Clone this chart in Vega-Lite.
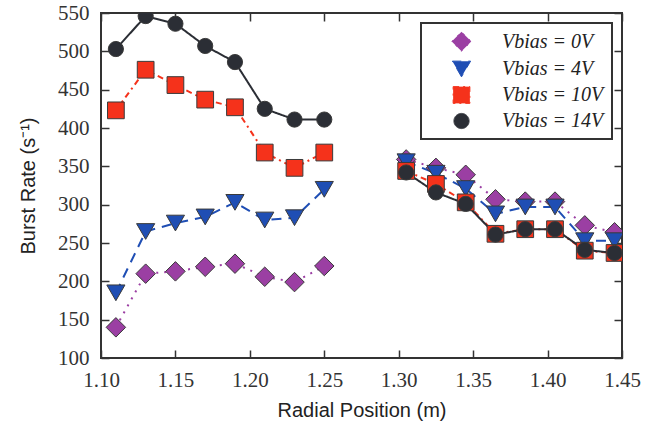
{
  "$schema": "https://vega.github.io/schema/vega-lite/v6.json",
  "width": 521,
  "height": 345,
  "autosize": {"type": "none"},
  "padding": {"left": 101, "top": 13, "right": 34, "bottom": 71},
  "background": "white",
  "data": {"values": [
    {"x": 1.11, "y": 140, "bias": "0V", "side": "L"},
    {"x": 1.13, "y": 210, "bias": "0V", "side": "L"},
    {"x": 1.15, "y": 213, "bias": "0V", "side": "L"},
    {"x": 1.17, "y": 219, "bias": "0V", "side": "L"},
    {"x": 1.19, "y": 223, "bias": "0V", "side": "L"},
    {"x": 1.21, "y": 206, "bias": "0V", "side": "L"},
    {"x": 1.23, "y": 199, "bias": "0V", "side": "L"},
    {"x": 1.25, "y": 220, "bias": "0V", "side": "L"},
    {"x": 1.305, "y": 359, "bias": "0V", "side": "R"},
    {"x": 1.325, "y": 348, "bias": "0V", "side": "R"},
    {"x": 1.345, "y": 339, "bias": "0V", "side": "R"},
    {"x": 1.365, "y": 307, "bias": "0V", "side": "R"},
    {"x": 1.385, "y": 304, "bias": "0V", "side": "R"},
    {"x": 1.405, "y": 304, "bias": "0V", "side": "R"},
    {"x": 1.425, "y": 273, "bias": "0V", "side": "R"},
    {"x": 1.445, "y": 264, "bias": "0V", "side": "R"},
    {"x": 1.11, "y": 185, "bias": "4V", "side": "L"},
    {"x": 1.13, "y": 265, "bias": "4V", "side": "L"},
    {"x": 1.15, "y": 276, "bias": "4V", "side": "L"},
    {"x": 1.17, "y": 284, "bias": "4V", "side": "L"},
    {"x": 1.19, "y": 303, "bias": "4V", "side": "L"},
    {"x": 1.21, "y": 280, "bias": "4V", "side": "L"},
    {"x": 1.23, "y": 283, "bias": "4V", "side": "L"},
    {"x": 1.25, "y": 320, "bias": "4V", "side": "L"},
    {"x": 1.305, "y": 356, "bias": "4V", "side": "R"},
    {"x": 1.325, "y": 341, "bias": "4V", "side": "R"},
    {"x": 1.345, "y": 321, "bias": "4V", "side": "R"},
    {"x": 1.365, "y": 288, "bias": "4V", "side": "R"},
    {"x": 1.385, "y": 297, "bias": "4V", "side": "R"},
    {"x": 1.405, "y": 297, "bias": "4V", "side": "R"},
    {"x": 1.425, "y": 253, "bias": "4V", "side": "R"},
    {"x": 1.445, "y": 253, "bias": "4V", "side": "R"},
    {"x": 1.11, "y": 423, "bias": "10V", "side": "L"},
    {"x": 1.13, "y": 476, "bias": "10V", "side": "L"},
    {"x": 1.15, "y": 456, "bias": "10V", "side": "L"},
    {"x": 1.17, "y": 437, "bias": "10V", "side": "L"},
    {"x": 1.19, "y": 427, "bias": "10V", "side": "L"},
    {"x": 1.21, "y": 368, "bias": "10V", "side": "L"},
    {"x": 1.23, "y": 348, "bias": "10V", "side": "L"},
    {"x": 1.25, "y": 368, "bias": "10V", "side": "L"},
    {"x": 1.305, "y": 344, "bias": "10V", "side": "R"},
    {"x": 1.325, "y": 327, "bias": "10V", "side": "R"},
    {"x": 1.345, "y": 303, "bias": "10V", "side": "R"},
    {"x": 1.365, "y": 262, "bias": "10V", "side": "R"},
    {"x": 1.385, "y": 268, "bias": "10V", "side": "R"},
    {"x": 1.405, "y": 268, "bias": "10V", "side": "R"},
    {"x": 1.425, "y": 240, "bias": "10V", "side": "R"},
    {"x": 1.445, "y": 237, "bias": "10V", "side": "R"},
    {"x": 1.11, "y": 503, "bias": "14V", "side": "L"},
    {"x": 1.13, "y": 546, "bias": "14V", "side": "L"},
    {"x": 1.15, "y": 536, "bias": "14V", "side": "L"},
    {"x": 1.17, "y": 507, "bias": "14V", "side": "L"},
    {"x": 1.19, "y": 486, "bias": "14V", "side": "L"},
    {"x": 1.21, "y": 425, "bias": "14V", "side": "L"},
    {"x": 1.23, "y": 411, "bias": "14V", "side": "L"},
    {"x": 1.25, "y": 411, "bias": "14V", "side": "L"},
    {"x": 1.305, "y": 342, "bias": "14V", "side": "R"},
    {"x": 1.325, "y": 316, "bias": "14V", "side": "R"},
    {"x": 1.345, "y": 301, "bias": "14V", "side": "R"},
    {"x": 1.365, "y": 261, "bias": "14V", "side": "R"},
    {"x": 1.385, "y": 268, "bias": "14V", "side": "R"},
    {"x": 1.405, "y": 268, "bias": "14V", "side": "R"},
    {"x": 1.425, "y": 241, "bias": "14V", "side": "R"},
    {"x": 1.445, "y": 237, "bias": "14V", "side": "R"}
  ]},
  "layer": [
    {
      "mark": {"type": "line", "strokeWidth": 2, "clip": true},
      "encoding": {
        "x": {"field": "x", "type": "quantitative", "scale": {"domain": [1.1, 1.45], "nice": false, "zero": false},
              "axis": {"title": "Radial Position (m)", "orient": "bottom", "offset": -8, "domain": false, "ticks": true, "tickSize": 8, "tickColor": "#333333", "tickWidth": 1.5, "tickOpacity": 1, "values": [1.1, 1.15, 1.2, 1.25, 1.3, 1.35, 1.4, 1.45], "format": ".2f", "labelFlush": false, "labelPadding": 11, "titlePadding": 10}},
        "y": {"field": "y", "type": "quantitative", "scale": {"domain": [100, 550], "nice": false, "zero": false},
              "axis": {"title": "Burst Rate (s⁻¹)", "orient": "left", "offset": -8, "domain": false, "ticks": true, "tickSize": 8, "tickColor": "#333333", "tickWidth": 1.5, "tickOpacity": 1, "values": [100, 150, 200, 250, 300, 350, 400, 450, 500, 550], "labelFlush": false, "labelPadding": 12, "titlePadding": 19}},
        "color": {"field": "bias", "type": "nominal", "scale": {"domain": ["0V", "4V", "10V", "14V"], "range": ["#9b3fa3", "#1f4eb4", "#f5321b", "#2b2e35"]}},
        "strokeDash": {"field": "bias", "type": "nominal", "scale": {"domain": ["0V", "4V", "10V", "14V"], "range": [[2, 6], [10, 7], [6, 4, 2, 4], [1, 0]]}, "legend": null},
        "detail": {"field": "side", "type": "nominal"}
      }
    },
    {
      "mark": {"type": "point", "filled": true, "opacity": 1, "stroke": "#3a3a3a", "strokeWidth": 1, "clip": true},
      "encoding": {
        "x": {"field": "x", "type": "quantitative", "axis": {"orient": "top", "offset": -8, "title": null, "labels": false, "domain": false, "ticks": true, "tickSize": 8, "tickColor": "#333333", "tickWidth": 1.5, "tickOpacity": 1, "values": [1.1, 1.15, 1.2, 1.25, 1.3, 1.35, 1.4, 1.45]}},
        "y": {"field": "y", "type": "quantitative", "axis": {"orient": "right", "offset": -8, "title": null, "labels": false, "domain": false, "ticks": true, "tickSize": 8, "tickColor": "#333333", "tickWidth": 1.5, "tickOpacity": 1, "values": [100, 150, 200, 250, 300, 350, 400, 450, 500, 550]}},
        "color": {"field": "bias", "type": "nominal",
                  "legend": {"title": null, "orient": "top-right", "offset": 10, "labelExpr": "'Vbias = ' + datum.label"}},
        "shape": {"field": "bias", "type": "nominal", "scale": {"domain": ["0V", "4V", "10V", "14V"], "range": ["diamond", "triangle-down", "square", "circle"]},
                  "legend": {"title": null, "orient": "top-right", "offset": 10, "labelExpr": "'Vbias = ' + datum.label"}},
        "size": {"field": "bias", "type": "nominal", "scale": {"domain": ["0V", "4V", "10V", "14V"], "range": [380, 230, 215, 210]},
                  "legend": {"title": null, "orient": "top-right", "offset": 10, "labelExpr": "'Vbias = ' + datum.label"}}
      }
    }
  ],
  "resolve": {"axis": {"x": "independent", "y": "independent"}},
  "config": {
    "view": {"stroke": "#333", "strokeWidth": 2},
    "axis": {
      "grid": false, "labelFont": "Liberation Serif", "labelFontSize": 21, "labelColor": "#333",
      "titleFont": "Liberation Sans", "titleFontSize": 20, "titleFontWeight": "normal", "titleColor": "#222"
    },
    "legend": {
      "strokeColor": "#333", "strokeWidth": 2, "fillColor": "white", "padding": 8, "rowPadding": 5,
      "labelFont": "Liberation Serif", "labelFontSize": 20, "labelColor": "#222", "labelFontStyle": "italic",
      "symbolStrokeColor": "#3a3a3a", "symbolStrokeWidth": 1, "symbolOpacity": 1, "symbolOffset": 22, "labelOffset": 30
    }
  }
}
